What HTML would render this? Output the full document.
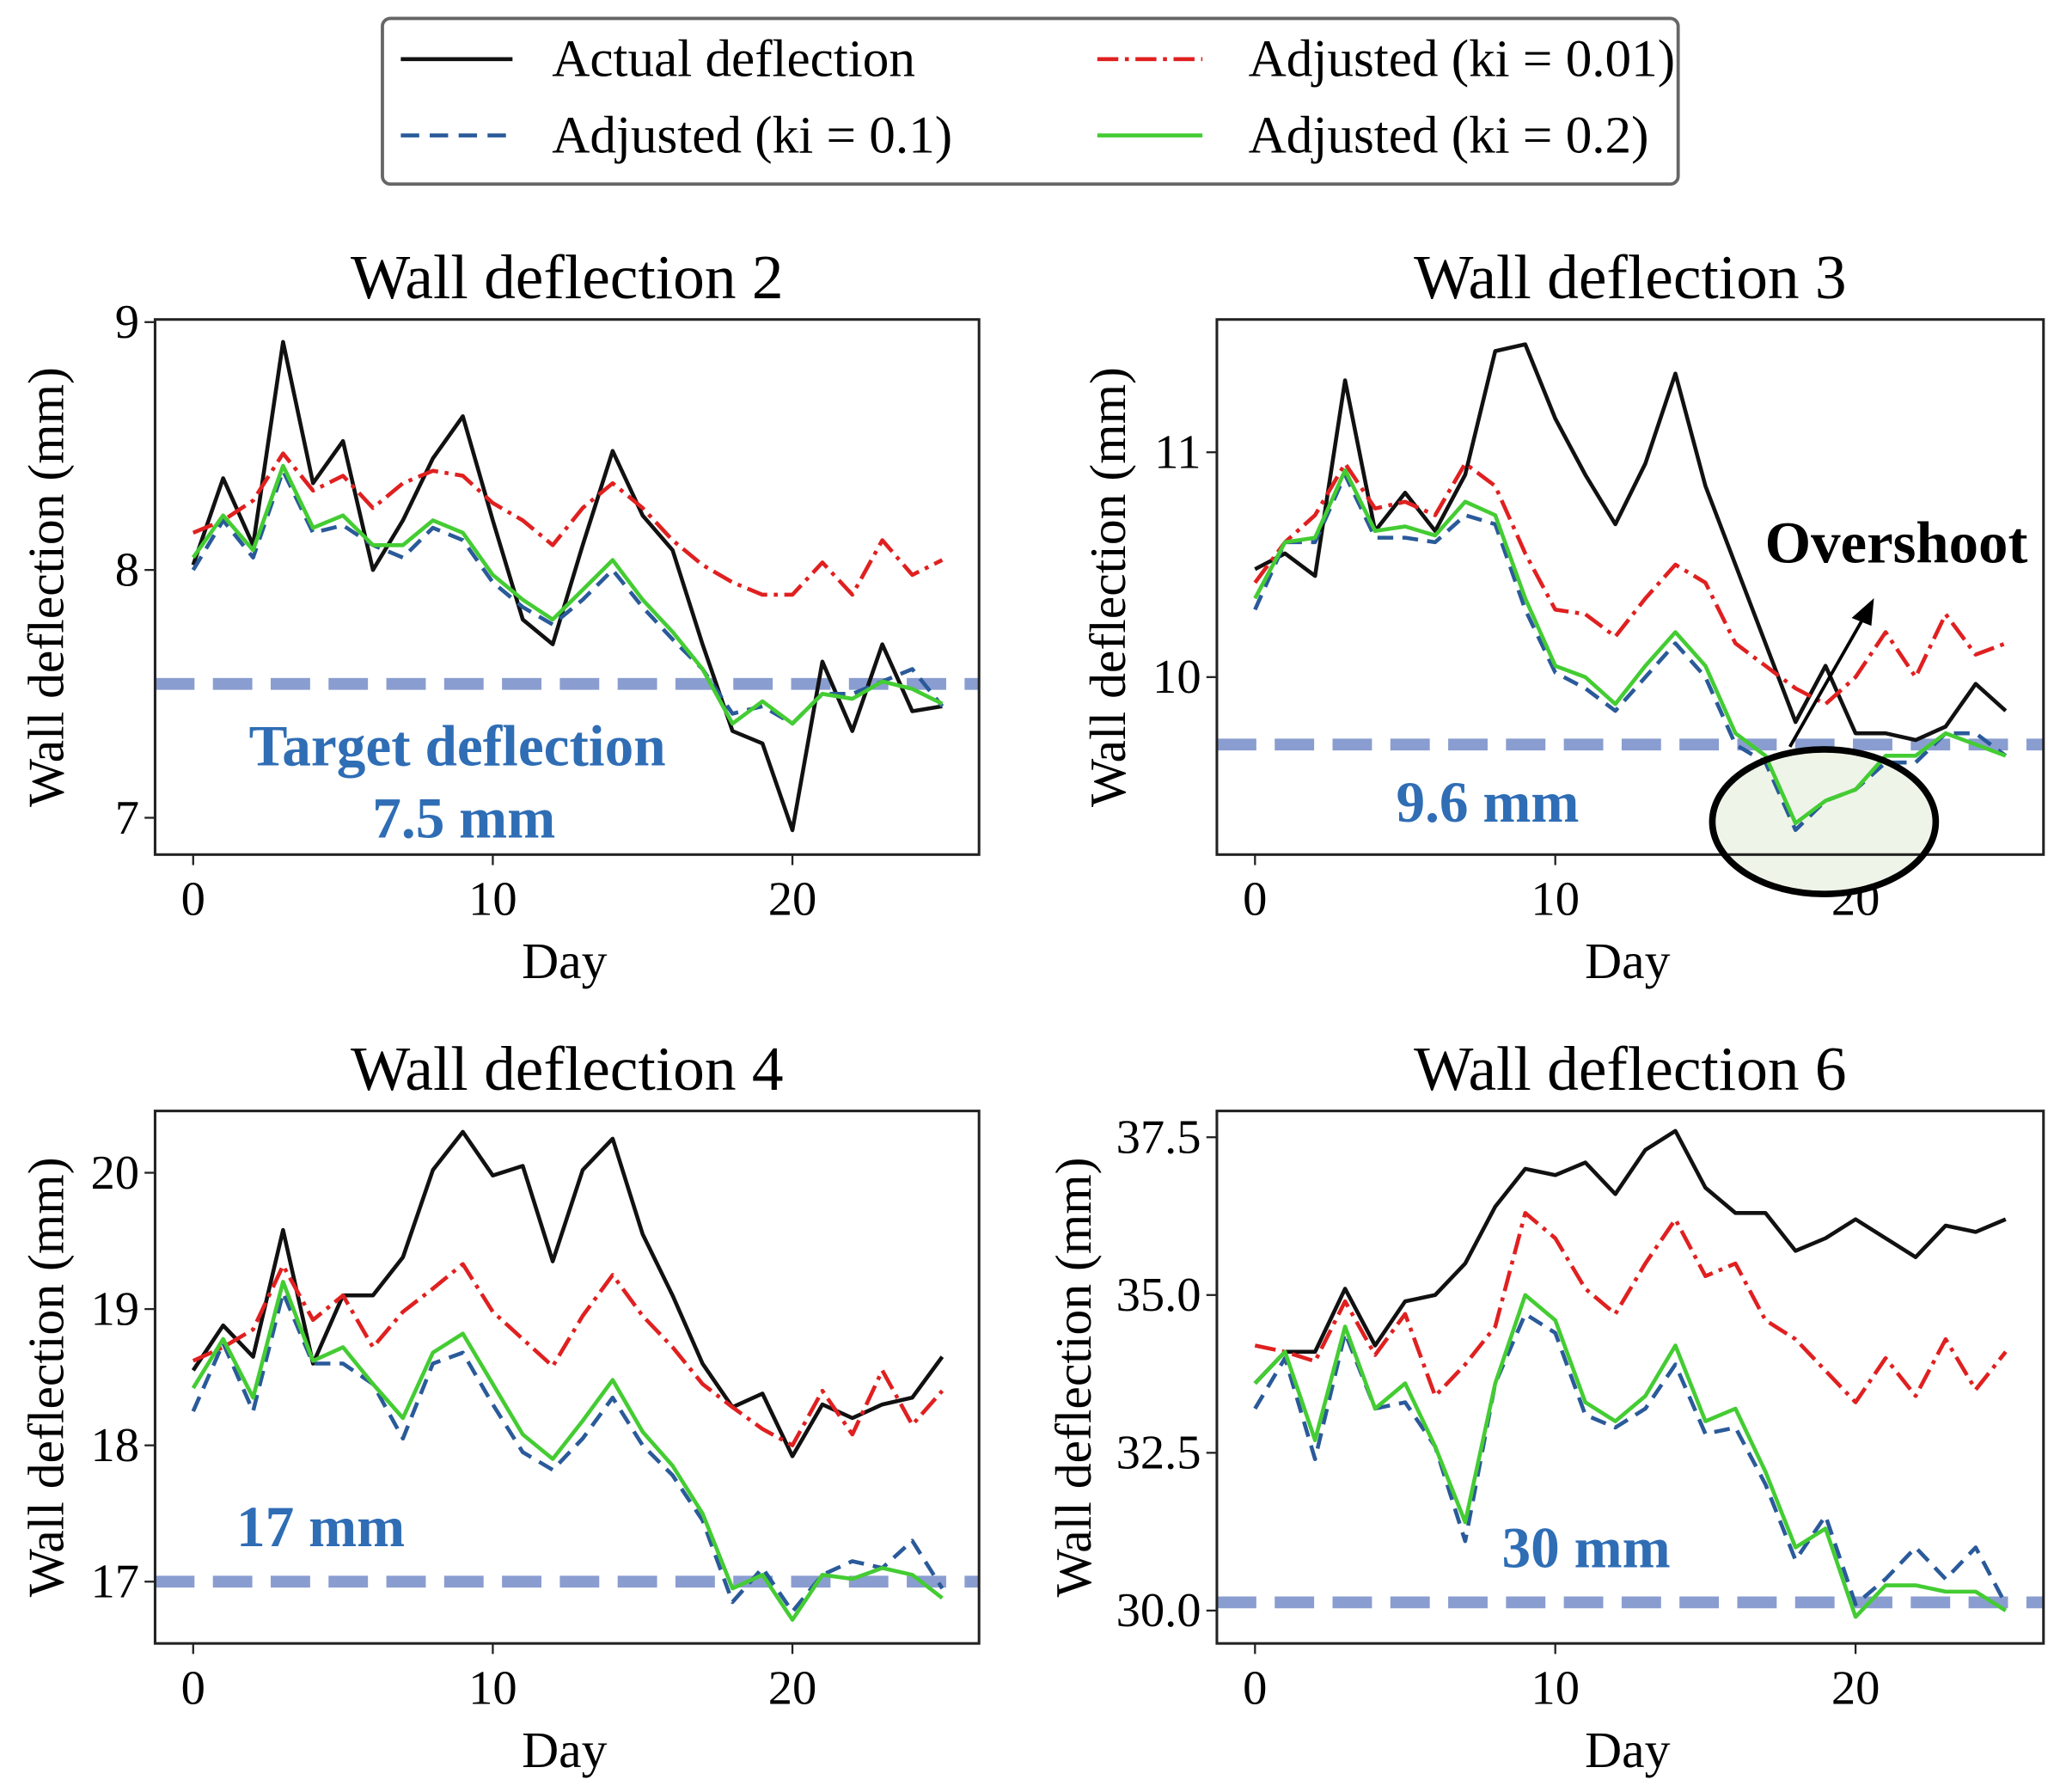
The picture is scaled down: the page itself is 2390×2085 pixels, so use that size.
<!DOCTYPE html>
<html><head><meta charset="utf-8"><style>
html,body{margin:0;padding:0;background:#fff}
svg{display:block}
text{font-family:"Liberation Serif",serif}
</style></head><body>
<svg id="chart" width="2390" height="2085" viewBox="0 0 1563 1363" preserveAspectRatio="none" xmlns="http://www.w3.org/2000/svg">
<g>
<rect x="291" y="14" width="986" height="126" rx="6" fill="#fff" stroke="#666" stroke-width="2.5"/>
<line x1="305" y1="45" x2="390" y2="45" stroke="#111" stroke-width="3"/>
<text x="420" y="58" font-size="40">Actual deflection</text>
<line x1="305" y1="103" x2="390" y2="103" stroke="#2a5a9a" stroke-width="3" stroke-dasharray="14,8"/>
<text x="420" y="116" font-size="40">Adjusted (ki = 0.1)</text>
<line x1="835" y1="45" x2="915" y2="45" stroke="#e02020" stroke-width="3" stroke-dasharray="16,5,3,5"/>
<text x="950" y="58" font-size="40">Adjusted (ki = 0.01)</text>
<line x1="835" y1="103" x2="915" y2="103" stroke="#44cc33" stroke-width="3"/>
<text x="950" y="116" font-size="40">Adjusted (ki = 0.2)</text>
</g>
</svg>
<script>
const days = Array.from({length:26},(_,i)=>i);
const actual2=[8.02,8.37,8.1,8.92,8.35,8.52,8.0,8.2,8.45,8.62,8.2,7.8,7.7,8.1,8.48,8.22,8.08,7.7,7.35,7.3,6.95,7.63,7.35,7.7,7.43,7.45];
const red2=[8.15,8.2,8.28,8.47,8.32,8.38,8.25,8.35,8.4,8.38,8.27,8.2,8.1,8.25,8.35,8.25,8.12,8.02,7.95,7.9,7.9,8.03,7.9,8.12,7.98,8.04];
const blue2=[8.0,8.2,8.05,8.4,8.15,8.18,8.1,8.05,8.17,8.12,7.95,7.85,7.78,7.88,8.0,7.85,7.72,7.6,7.42,7.45,7.38,7.5,7.5,7.55,7.6,7.45];
const green2=[8.05,8.22,8.08,8.42,8.17,8.22,8.1,8.1,8.2,8.15,7.98,7.88,7.8,7.92,8.04,7.88,7.75,7.6,7.38,7.47,7.38,7.5,7.48,7.55,7.52,7.46];
const actual3=[10.48,10.55,10.45,11.32,10.65,10.82,10.65,10.9,11.45,11.48,11.15,10.9,10.68,10.95,11.35,10.85,10.5,10.15,9.8,10.05,9.75,9.75,9.72,9.78,9.97,9.85];
const red3=[10.42,10.6,10.72,10.95,10.75,10.78,10.72,10.95,10.85,10.55,10.3,10.28,10.18,10.35,10.5,10.42,10.15,10.05,9.95,9.88,10.0,10.2,10.0,10.28,10.1,10.15];
const blue3=[10.3,10.6,10.6,10.9,10.62,10.62,10.6,10.72,10.68,10.3,10.02,9.95,9.85,10.0,10.15,10.0,9.7,9.62,9.32,9.45,9.5,9.62,9.62,9.75,9.75,9.65];
const green3=[10.35,10.6,10.62,10.92,10.65,10.67,10.63,10.78,10.72,10.35,10.05,10.0,9.88,10.05,10.2,10.05,9.75,9.65,9.35,9.45,9.5,9.65,9.65,9.75,9.7,9.65];
const actual4=[18.55,18.88,18.65,19.58,18.6,19.1,19.1,19.38,20.02,20.3,19.98,20.05,19.35,20.02,20.25,19.55,19.1,18.6,18.28,18.38,17.92,18.3,18.2,18.3,18.35,18.65];
const red4=[18.62,18.72,18.85,19.32,18.92,19.1,18.72,18.98,19.15,19.33,18.98,18.78,18.58,18.95,19.25,18.95,18.72,18.45,18.28,18.12,18.0,18.4,18.08,18.55,18.15,18.4];
const blue4=[18.25,18.75,18.25,19.12,18.6,18.6,18.45,18.05,18.6,18.68,18.3,17.95,17.82,18.05,18.35,18.0,17.78,17.45,16.85,17.1,16.78,17.05,17.15,17.1,17.3,16.95];
const green4=[18.42,18.78,18.35,19.2,18.62,18.72,18.45,18.2,18.68,18.82,18.45,18.08,17.9,18.18,18.48,18.1,17.85,17.5,16.95,17.05,16.72,17.05,17.02,17.1,17.05,16.88];
const actual6=[33.6,34.1,34.1,35.1,34.2,34.9,35.0,35.5,36.4,37.0,36.9,37.1,36.6,37.3,37.6,36.7,36.3,36.3,35.7,35.9,36.2,35.9,35.6,36.1,36.0,36.2];
const red6=[34.2,34.1,33.95,34.9,34.05,34.7,33.4,33.9,34.5,36.3,35.9,35.1,34.7,35.5,36.2,35.3,35.5,34.6,34.3,33.8,33.3,34.0,33.4,34.3,33.5,34.1];
const blue6=[33.2,34.0,32.4,34.4,33.2,33.3,32.6,31.1,33.6,34.7,34.4,33.1,32.9,33.2,33.9,32.8,32.9,32.0,30.8,31.5,30.1,30.5,31.0,30.5,31.0,30.1];
const green6=[33.6,34.1,32.7,34.5,33.2,33.6,32.6,31.4,33.6,35.0,34.6,33.3,33.0,33.4,34.2,33.0,33.2,32.2,31.0,31.3,29.9,30.4,30.4,30.3,30.3,30.0];
const xTicks=[0,10,20];
const yTicks2=[7,8,9], yTicks3=[10,11], yTicks4=[17,18,19,20], yTicks6=[30,32.5,35,37.5];
const yLabels6=["30.0","32.5","35.0","37.5"];
const targets=[7.54,9.7,17.0,30.13];

const NS="http://www.w3.org/2000/svg";
const svg=document.getElementById('chart');
function mk(tag,attrs,parent){const e=document.createElementNS(NS,tag);for(const k in attrs)e.setAttribute(k,attrs[k]);(parent||svg).appendChild(e);return e;}

const panels=[
 {name:"wall-deflection-2",title:"Wall deflection 2",bx:118,by:243,bw:627,bh:407,x0:147,x20:603,v1:9,p1:245,v2:7,p2:622,yt:yTicks2,yl:null,s:[actual2,red2,blue2,green2],t:targets[0]},
 {name:"wall-deflection-3",title:"Wall deflection 3",bx:926,by:243,bw:629,bh:407,x0:955,x20:1412,v1:11,p1:344,v2:10,p2:515,yt:yTicks3,yl:null,s:[actual3,red3,blue3,green3],t:targets[1]},
 {name:"wall-deflection-4",title:"Wall deflection 4",bx:118,by:845,bw:627,bh:405,x0:147,x20:603,v1:20,p1:892,v2:17,p2:1203,yt:yTicks4,yl:null,s:[actual4,red4,blue4,green4],t:targets[2]},
 {name:"wall-deflection-6",title:"Wall deflection 6",bx:926,by:845,bw:629,bh:405,x0:955,x20:1412,v1:37.5,p1:865,v2:30,p2:1225,yt:yTicks6,yl:yLabels6,s:[actual6,red6,blue6,green6],t:targets[3]}
];
const styles=[
 {c:"#111",d:"",n:"actual-deflection-line"},
 {c:"#e02020",d:"16,5,3,5",n:"adjusted-ki-0.01-line"},
 {c:"#2a5a9a",d:"12,7",n:"adjusted-ki-0.1-line"},
 {c:"#44cc33",d:"",n:"adjusted-ki-0.2-line"}
];
panels.forEach(p=>{
 const g=mk('g',{});
 
 
 const xs=d=>p.x0+(d/20)*(p.x20-p.x0);
 const ys=v=>p.p1+(p.v1-v)/(p.v1-p.v2)*(p.p2-p.p1);
 const clipId='c'+p.name;
 const cp=mk('clipPath',{id:clipId},g);mk('rect',{x:p.bx,y:p.by,width:p.bw,height:p.bh},cp);
 const title=mk('text',{x:p.bx+p.bw/2,y:p.by-16,'font-size':48,'text-anchor':'middle'},g);title.textContent=p.title;
 
 
 xTicks.forEach(t=>{const x=xs(t);mk('line',{x1:x,y1:p.by+p.bh,x2:x,y2:p.by+p.bh+8,stroke:'#222','stroke-width':1.5},g);
  const tx=mk('text',{x:x,y:p.by+p.bh+46,'font-size':37,'text-anchor':'middle'},g);tx.textContent=t;
  
  });
 p.yt.forEach((t,i)=>{const y=ys(t);mk('line',{x1:p.bx-8,y1:y,x2:p.bx,y2:y,stroke:'#222','stroke-width':1.5},g);
  const ty=mk('text',{x:p.bx-12,y:y+12,'font-size':37,'text-anchor':'end'},g);ty.textContent=p.yl?p.yl[i]:t;
  
  });
 const xl=mk('text',{x:p.bx+p.bw/2-2,y:p.by+p.bh+94,'font-size':39,'text-anchor':'middle'},g);xl.textContent='Day';
 
 
 const lx=p.bx-(p.yl?96:70), ly=p.by+p.bh/2;
 const yl=mk('text',{x:lx,y:ly,'font-size':39,'text-anchor':'middle',transform:`rotate(-90 ${lx} ${ly})`},g);yl.textContent='Wall deflection (mm)';
 
 
 const tg=mk('line',{x1:p.bx,x2:p.bx+p.bw,y1:ys(p.t),y2:ys(p.t),stroke:'#8a9dd0','stroke-width':9,'stroke-dasharray':'30,14'},g);
 
 
 if(p.name==='wall-deflection-3'){
  const el=mk('ellipse',{cx:1388,cy:625,rx:85,ry:55,fill:'#eef4e8',stroke:'none'},g);
  
  
 }
 p.s.forEach((arr,i)=>{const st=styles[i];
  const pl=mk('polyline',{points:arr.map((v,d)=>xs(d)+','+ys(v)).join(' '),fill:'none',stroke:st.c,'stroke-width':3,'stroke-dasharray':st.d,'clip-path':`url(#${clipId})`,'stroke-linejoin':'round'},g);
  
  });
 const fr=mk('rect',{x:p.bx,y:p.by,width:p.bw,height:p.bh,fill:'none',stroke:'#222','stroke-width':2},g);
 
 
});
function ann(x,y,txt,name,anchor,color,size){const t=mk('text',{x:x,y:y,'font-size':size||44,'font-weight':'bold','text-anchor':anchor||'middle',fill:color||'#2f6db5'});t.textContent=txt;
 
 }
ann(348,582,'Target deflection','target-deflection-label');
ann(353,637,'7.5 mm','target-value-2');
ann(1132,625,'9.6 mm','target-value-3');
ann(244,1176,'17 mm','target-value-4');
ann(1207,1192,'30 mm','target-value-6');
const ov=mk('ellipse',{cx:1388,cy:625,rx:85,ry:55,fill:'none',stroke:'#000','stroke-width':5});


const ar=mk('line',{x1:1362,y1:568,x2:1418,y2:470,stroke:'#000','stroke-width':2.5});


const ah=mk('polygon',{points:'1426,455 1409,470 1424,476',fill:'#000'});


ann(1443,428,'Overshoot','overshoot-label','middle','#000',45);
</script>
</body></html>
